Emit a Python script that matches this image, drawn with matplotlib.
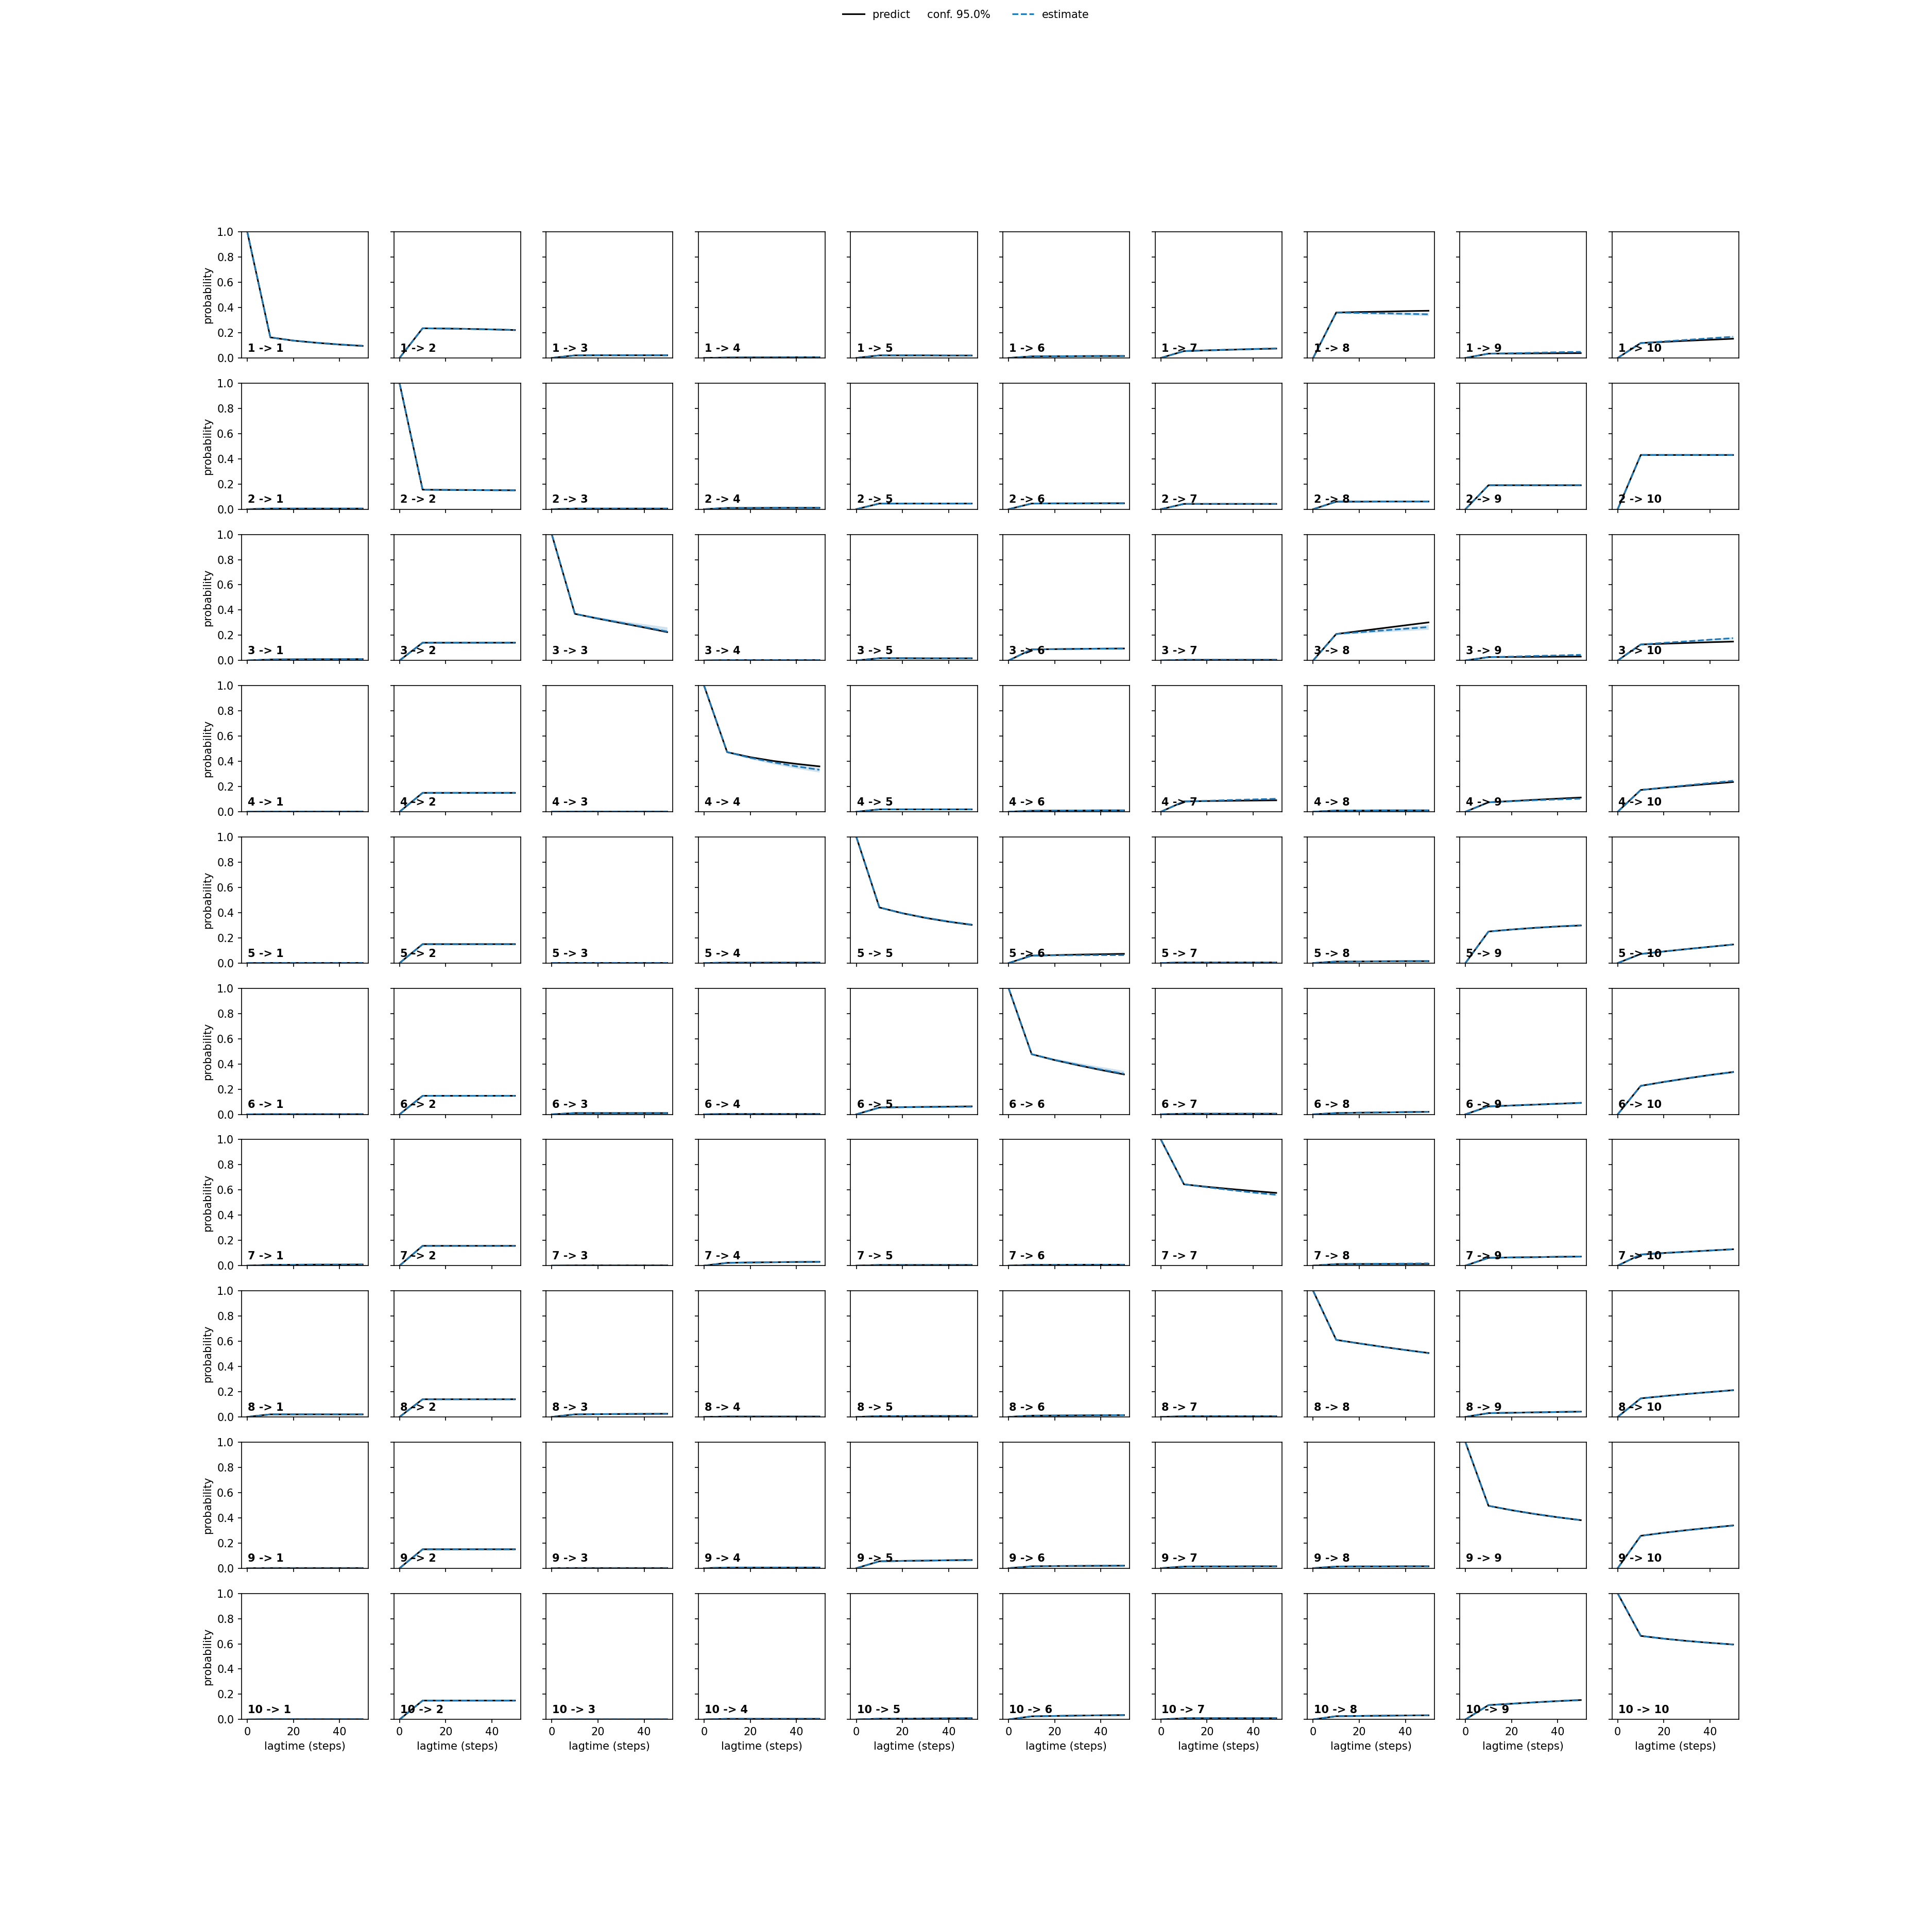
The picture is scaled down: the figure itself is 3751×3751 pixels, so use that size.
import matplotlib
matplotlib.use("Agg")
import matplotlib.pyplot as plt
from matplotlib.lines import Line2D

lagtimes = [0, 10, 20, 30, 40, 50]
n_states = 10
conf_level = 0.95

# predictions: row k -> list of 10 target series (values at lagtimes)
pred_row_1 = [
    [1, 0.163, 0.137, 0.120, 0.106, 0.095],
    [0, 0.235, 0.233, 0.230, 0.226, 0.221],
    [0, 0.020, 0.021, 0.021, 0.021, 0.021],
    [0, 0.003, 0.004, 0.004, 0.005, 0.005],
    [0, 0.020, 0.020, 0.020, 0.019, 0.019],
    [0, 0.012, 0.013, 0.014, 0.015, 0.015],
    [0, 0.054, 0.060, 0.065, 0.070, 0.074],
    [0, 0.360, 0.364, 0.367, 0.371, 0.374],
    [0, 0.034, 0.035, 0.036, 0.037, 0.038],
    [0, 0.118, 0.127, 0.136, 0.144, 0.152],
]
est_row_1 = [
    [1, 0.163, 0.138, 0.121, 0.107, 0.097],
    [0, 0.235, 0.233, 0.230, 0.226, 0.222],
    [0, 0.020, 0.021, 0.021, 0.021, 0.021],
    [0, 0.003, 0.004, 0.004, 0.005, 0.005],
    [0, 0.020, 0.020, 0.020, 0.019, 0.019],
    [0, 0.012, 0.013, 0.014, 0.015, 0.015],
    [0, 0.054, 0.060, 0.066, 0.071, 0.076],
    [0, 0.360, 0.357, 0.354, 0.350, 0.346],
    [0, 0.034, 0.037, 0.041, 0.045, 0.048],
    [0, 0.118, 0.131, 0.143, 0.156, 0.168],
]

pred_row_2 = [
    [0, 0.005, 0.005, 0.005, 0.005, 0.005],
    [1, 0.155, 0.153, 0.152, 0.151, 0.150],
    [0, 0.005, 0.005, 0.005, 0.005, 0.005],
    [0, 0.010, 0.010, 0.011, 0.011, 0.011],
    [0, 0.045, 0.045, 0.045, 0.045, 0.045],
    [0, 0.045, 0.046, 0.046, 0.047, 0.047],
    [0, 0.042, 0.042, 0.042, 0.042, 0.042],
    [0, 0.060, 0.060, 0.061, 0.061, 0.061],
    [0, 0.190, 0.190, 0.190, 0.190, 0.190],
    [0, 0.430, 0.430, 0.430, 0.430, 0.430],
]
est_row_2 = [
    [0, 0.005, 0.005, 0.005, 0.005, 0.005],
    [1, 0.155, 0.153, 0.152, 0.151, 0.150],
    [0, 0.005, 0.005, 0.005, 0.005, 0.005],
    [0, 0.010, 0.010, 0.011, 0.011, 0.011],
    [0, 0.045, 0.045, 0.045, 0.045, 0.045],
    [0, 0.045, 0.046, 0.046, 0.047, 0.047],
    [0, 0.042, 0.042, 0.042, 0.042, 0.042],
    [0, 0.060, 0.060, 0.061, 0.061, 0.061],
    [0, 0.190, 0.190, 0.190, 0.190, 0.190],
    [0, 0.430, 0.430, 0.430, 0.430, 0.430],
]

pred_row_3 = [
    [0, 0.008, 0.009, 0.010, 0.010, 0.011],
    [0, 0.141, 0.141, 0.141, 0.141, 0.141],
    [1, 0.370, 0.332, 0.297, 0.262, 0.225],
    [0, 0.003, 0.003, 0.003, 0.003, 0.003],
    [0, 0.018, 0.018, 0.017, 0.017, 0.017],
    [0, 0.088, 0.090, 0.092, 0.094, 0.095],
    [0, 0.005, 0.005, 0.005, 0.005, 0.005],
    [0, 0.210, 0.233, 0.256, 0.279, 0.302],
    [0, 0.027, 0.028, 0.029, 0.030, 0.031],
    [0, 0.127, 0.133, 0.139, 0.145, 0.150],
]
est_row_3 = [
    [0, 0.008, 0.009, 0.010, 0.010, 0.011],
    [0, 0.141, 0.141, 0.141, 0.141, 0.141],
    [1, 0.370, 0.334, 0.300, 0.266, 0.230],
    [0, 0.003, 0.003, 0.003, 0.003, 0.003],
    [0, 0.018, 0.018, 0.017, 0.017, 0.017],
    [0, 0.088, 0.090, 0.092, 0.093, 0.094],
    [0, 0.005, 0.005, 0.005, 0.005, 0.005],
    [0, 0.210, 0.224, 0.238, 0.252, 0.265],
    [0, 0.027, 0.031, 0.036, 0.040, 0.045],
    [0, 0.127, 0.140, 0.152, 0.165, 0.177],
]

pred_row_4 = [
    [0, 0.001, 0.001, 0.001, 0.001, 0.001],
    [0, 0.150, 0.150, 0.150, 0.150, 0.150],
    [0, 0.001, 0.001, 0.001, 0.001, 0.001],
    [1, 0.473, 0.433, 0.403, 0.380, 0.360],
    [0, 0.019, 0.019, 0.019, 0.019, 0.019],
    [0, 0.008, 0.009, 0.010, 0.011, 0.011],
    [0, 0.082, 0.085, 0.087, 0.089, 0.091],
    [0, 0.010, 0.010, 0.011, 0.011, 0.011],
    [0, 0.075, 0.085, 0.095, 0.104, 0.113],
    [0, 0.173, 0.190, 0.206, 0.221, 0.236],
]
est_row_4 = [
    [0, 0.001, 0.001, 0.001, 0.001, 0.001],
    [0, 0.150, 0.150, 0.150, 0.150, 0.150],
    [0, 0.001, 0.001, 0.001, 0.001, 0.001],
    [1, 0.473, 0.428, 0.392, 0.360, 0.333],
    [0, 0.019, 0.019, 0.019, 0.019, 0.019],
    [0, 0.008, 0.009, 0.010, 0.011, 0.011],
    [0, 0.082, 0.087, 0.093, 0.098, 0.103],
    [0, 0.010, 0.010, 0.011, 0.011, 0.011],
    [0, 0.075, 0.083, 0.091, 0.098, 0.104],
    [0, 0.173, 0.192, 0.210, 0.228, 0.245],
]

pred_row_5 = [
    [0, 0.001, 0.001, 0.001, 0.001, 0.001],
    [0, 0.150, 0.150, 0.150, 0.150, 0.150],
    [0, 0.001, 0.001, 0.001, 0.001, 0.001],
    [0, 0.003, 0.003, 0.003, 0.003, 0.003],
    [1, 0.441, 0.395, 0.358, 0.328, 0.303],
    [0, 0.059, 0.063, 0.067, 0.070, 0.073],
    [0, 0.005, 0.005, 0.005, 0.005, 0.005],
    [0, 0.012, 0.013, 0.014, 0.015, 0.015],
    [0, 0.250, 0.266, 0.279, 0.290, 0.298],
    [0, 0.072, 0.092, 0.111, 0.129, 0.147],
]
est_row_5 = [
    [0, 0.001, 0.001, 0.001, 0.001, 0.001],
    [0, 0.150, 0.150, 0.150, 0.150, 0.150],
    [0, 0.001, 0.001, 0.001, 0.001, 0.001],
    [0, 0.003, 0.003, 0.003, 0.003, 0.003],
    [1, 0.441, 0.396, 0.360, 0.330, 0.305],
    [0, 0.059, 0.061, 0.062, 0.063, 0.063],
    [0, 0.005, 0.005, 0.005, 0.005, 0.005],
    [0, 0.012, 0.013, 0.014, 0.015, 0.016],
    [0, 0.250, 0.266, 0.280, 0.291, 0.300],
    [0, 0.072, 0.092, 0.111, 0.129, 0.147],
]

pred_row_6 = [
    [0, 0.001, 0.001, 0.001, 0.001, 0.001],
    [0, 0.147, 0.147, 0.147, 0.147, 0.147],
    [0, 0.010, 0.010, 0.010, 0.010, 0.010],
    [0, 0.003, 0.003, 0.003, 0.003, 0.003],
    [0, 0.054, 0.057, 0.059, 0.061, 0.063],
    [1, 0.477, 0.430, 0.390, 0.352, 0.317],
    [0, 0.005, 0.005, 0.005, 0.005, 0.005],
    [0, 0.010, 0.013, 0.015, 0.018, 0.020],
    [0, 0.063, 0.070, 0.077, 0.084, 0.091],
    [0, 0.226, 0.257, 0.285, 0.312, 0.336],
]
est_row_6 = [
    [0, 0.001, 0.001, 0.001, 0.001, 0.001],
    [0, 0.147, 0.147, 0.147, 0.147, 0.147],
    [0, 0.010, 0.010, 0.010, 0.010, 0.010],
    [0, 0.003, 0.003, 0.003, 0.003, 0.003],
    [0, 0.054, 0.056, 0.058, 0.059, 0.060],
    [1, 0.477, 0.432, 0.393, 0.356, 0.322],
    [0, 0.005, 0.005, 0.005, 0.005, 0.005],
    [0, 0.010, 0.013, 0.015, 0.018, 0.020],
    [0, 0.063, 0.070, 0.077, 0.084, 0.090],
    [0, 0.226, 0.258, 0.287, 0.313, 0.335],
]

pred_row_7 = [
    [0, 0.006, 0.007, 0.008, 0.008, 0.009],
    [0, 0.157, 0.157, 0.157, 0.157, 0.157],
    [0, 0.002, 0.002, 0.002, 0.002, 0.002],
    [0, 0.022, 0.025, 0.027, 0.029, 0.030],
    [0, 0.005, 0.005, 0.005, 0.005, 0.005],
    [0, 0.006, 0.006, 0.007, 0.007, 0.007],
    [1, 0.645, 0.625, 0.608, 0.592, 0.577],
    [0, 0.012, 0.013, 0.013, 0.013, 0.013],
    [0, 0.062, 0.065, 0.067, 0.070, 0.072],
    [0, 0.088, 0.100, 0.110, 0.120, 0.130],
]
est_row_7 = [
    [0, 0.006, 0.007, 0.008, 0.008, 0.009],
    [0, 0.157, 0.157, 0.157, 0.157, 0.157],
    [0, 0.002, 0.002, 0.002, 0.002, 0.002],
    [0, 0.022, 0.025, 0.027, 0.029, 0.030],
    [0, 0.005, 0.005, 0.005, 0.005, 0.005],
    [0, 0.006, 0.006, 0.007, 0.007, 0.007],
    [1, 0.645, 0.622, 0.600, 0.580, 0.562],
    [0, 0.012, 0.013, 0.015, 0.016, 0.018],
    [0, 0.062, 0.065, 0.067, 0.070, 0.072],
    [0, 0.088, 0.100, 0.110, 0.120, 0.130],
]

pred_row_8 = [
    [0, 0.020, 0.020, 0.020, 0.020, 0.020],
    [0, 0.140, 0.140, 0.140, 0.140, 0.140],
    [0, 0.020, 0.022, 0.023, 0.024, 0.025],
    [0, 0.003, 0.003, 0.003, 0.003, 0.003],
    [0, 0.006, 0.006, 0.007, 0.007, 0.007],
    [0, 0.010, 0.011, 0.012, 0.013, 0.014],
    [0, 0.005, 0.005, 0.005, 0.005, 0.005],
    [1, 0.611, 0.583, 0.556, 0.531, 0.507],
    [0, 0.030, 0.033, 0.036, 0.039, 0.042],
    [0, 0.147, 0.165, 0.182, 0.197, 0.212],
]
est_row_8 = [
    [0, 0.020, 0.020, 0.020, 0.020, 0.020],
    [0, 0.140, 0.140, 0.140, 0.140, 0.140],
    [0, 0.020, 0.022, 0.023, 0.024, 0.025],
    [0, 0.003, 0.003, 0.003, 0.003, 0.003],
    [0, 0.006, 0.006, 0.007, 0.007, 0.007],
    [0, 0.010, 0.011, 0.012, 0.013, 0.014],
    [0, 0.005, 0.005, 0.005, 0.005, 0.005],
    [1, 0.611, 0.582, 0.555, 0.530, 0.505],
    [0, 0.030, 0.033, 0.036, 0.039, 0.042],
    [0, 0.147, 0.165, 0.182, 0.197, 0.212],
]

pred_row_9 = [
    [0, 0.001, 0.001, 0.001, 0.001, 0.001],
    [0, 0.150, 0.150, 0.150, 0.150, 0.150],
    [0, 0.001, 0.001, 0.001, 0.001, 0.001],
    [0, 0.005, 0.005, 0.005, 0.005, 0.005],
    [0, 0.055, 0.058, 0.060, 0.063, 0.065],
    [0, 0.015, 0.017, 0.018, 0.019, 0.020],
    [0, 0.013, 0.014, 0.014, 0.015, 0.015],
    [0, 0.013, 0.014, 0.014, 0.015, 0.015],
    [1, 0.495, 0.460, 0.430, 0.404, 0.381],
    [0, 0.257, 0.281, 0.302, 0.321, 0.339],
]
est_row_9 = [
    [0, 0.001, 0.001, 0.001, 0.001, 0.001],
    [0, 0.150, 0.150, 0.150, 0.150, 0.150],
    [0, 0.001, 0.001, 0.001, 0.001, 0.001],
    [0, 0.005, 0.005, 0.005, 0.005, 0.005],
    [0, 0.055, 0.058, 0.060, 0.063, 0.065],
    [0, 0.015, 0.017, 0.018, 0.019, 0.020],
    [0, 0.013, 0.014, 0.014, 0.015, 0.015],
    [0, 0.013, 0.014, 0.014, 0.015, 0.015],
    [1, 0.495, 0.461, 0.431, 0.405, 0.382],
    [0, 0.257, 0.280, 0.301, 0.320, 0.337],
]

pred_row_10 = [
    [0, 0.002, 0.002, 0.002, 0.002, 0.002],
    [0, 0.150, 0.150, 0.150, 0.150, 0.150],
    [0, 0.001, 0.001, 0.001, 0.001, 0.001],
    [0, 0.005, 0.005, 0.005, 0.005, 0.005],
    [0, 0.006, 0.007, 0.008, 0.009, 0.010],
    [0, 0.025, 0.028, 0.031, 0.033, 0.035],
    [0, 0.010, 0.010, 0.010, 0.010, 0.010],
    [0, 0.026, 0.028, 0.030, 0.032, 0.033],
    [0, 0.114, 0.125, 0.136, 0.146, 0.154],
    [1, 0.663, 0.641, 0.623, 0.608, 0.595],
]
est_row_10 = [
    [0, 0.002, 0.002, 0.002, 0.002, 0.002],
    [0, 0.150, 0.150, 0.150, 0.150, 0.150],
    [0, 0.001, 0.001, 0.001, 0.001, 0.001],
    [0, 0.005, 0.005, 0.005, 0.005, 0.005],
    [0, 0.006, 0.007, 0.008, 0.009, 0.010],
    [0, 0.025, 0.028, 0.031, 0.033, 0.035],
    [0, 0.010, 0.010, 0.010, 0.010, 0.010],
    [0, 0.026, 0.028, 0.030, 0.032, 0.033],
    [0, 0.114, 0.125, 0.136, 0.146, 0.155],
    [1, 0.663, 0.641, 0.623, 0.608, 0.594],
]

# visible confidence bands of the estimates: (from, to) -> (lower, upper)
est_band = {
    (1, 1): ([1, 0.160, 0.134, 0.117, 0.103, 0.092], [1, 0.166, 0.142, 0.125, 0.111, 0.101]),
    (1, 8): ([0, 0.355, 0.349, 0.344, 0.339, 0.334], [0, 0.365, 0.364, 0.362, 0.360, 0.358]),
    (1, 9): ([0, 0.032, 0.034, 0.037, 0.040, 0.043], [0, 0.036, 0.040, 0.045, 0.050, 0.053]),
    (1, 10): ([0, 0.115, 0.126, 0.137, 0.149, 0.160], [0, 0.121, 0.136, 0.149, 0.163, 0.176]),
    (3, 3): ([1, 0.365, 0.327, 0.292, 0.257, 0.222], [1, 0.375, 0.345, 0.315, 0.290, 0.265]),
    (3, 8): ([0, 0.205, 0.215, 0.225, 0.235, 0.245], [0, 0.215, 0.233, 0.250, 0.268, 0.285]),
    (3, 9): ([0, 0.025, 0.028, 0.032, 0.035, 0.039], [0, 0.029, 0.034, 0.040, 0.045, 0.051]),
    (3, 10): ([0, 0.123, 0.134, 0.145, 0.157, 0.168], [0, 0.131, 0.146, 0.159, 0.173, 0.186]),
    (4, 4): ([1, 0.468, 0.418, 0.378, 0.343, 0.313], [1, 0.478, 0.440, 0.408, 0.378, 0.350]),
    (4, 7): ([0, 0.079, 0.083, 0.088, 0.092, 0.096], [0, 0.085, 0.091, 0.098, 0.104, 0.110]),
    (4, 10): ([0, 0.168, 0.185, 0.201, 0.218, 0.233], [0, 0.178, 0.199, 0.219, 0.238, 0.257]),
    (5, 5): ([1, 0.437, 0.390, 0.353, 0.322, 0.296], [1, 0.445, 0.402, 0.367, 0.338, 0.314]),
    (6, 6): ([1, 0.472, 0.425, 0.384, 0.345, 0.310], [1, 0.482, 0.443, 0.410, 0.378, 0.347]),
    (6, 10): ([0, 0.222, 0.252, 0.280, 0.305, 0.326], [0, 0.230, 0.264, 0.294, 0.321, 0.344]),
    (7, 7): ([1, 0.641, 0.617, 0.594, 0.573, 0.554], [1, 0.649, 0.627, 0.606, 0.587, 0.570]),
}

pred_rows = [pred_row_1, pred_row_2, pred_row_3, pred_row_4, pred_row_5,
             pred_row_6, pred_row_7, pred_row_8, pred_row_9, pred_row_10]
est_rows = [est_row_1, est_row_2, est_row_3, est_row_4, est_row_5,
            est_row_6, est_row_7, est_row_8, est_row_9, est_row_10]

xlabel = 'lagtime (steps)'
ylabel = 'probability'

W = 3751 / 150
fig = plt.figure(figsize=(W, W))
axes = fig.subplots(n_states, n_states, sharex=True, sharey=True)

for i in range(n_states):
    for j in range(n_states):
        ax = axes[i][j]
        ax.plot(lagtimes, pred_rows[i][j], color='black')
        band = est_band.get((i + 1, j + 1))
        if band is not None:
            ax.fill_between(lagtimes, band[0], band[1], color='C0', alpha=0.2, linewidth=0)
        ax.plot(lagtimes, est_rows[i][j], color='C0', linestyle='--')
        ax.text(0.05, 0.05, str(i + 1) + ' -> ' + str(j + 1),
                transform=ax.transAxes, weight='bold')
        ax.set_ylim(0, 1)
        if j == 0:
            ax.set_ylabel(ylabel)
        if i == n_states - 1:
            ax.set_xlabel(xlabel)

handles = [Line2D([], [], color='black'),
           Line2D([], [], color='C0', linestyle='--')]
labels = ['predict     conf. {:.1f}%'.format(conf_level * 100), 'estimate']
fig.legend(handles, labels, loc='upper center', ncol=3, frameon=False)

fig.savefig('out.png', dpi=150)
